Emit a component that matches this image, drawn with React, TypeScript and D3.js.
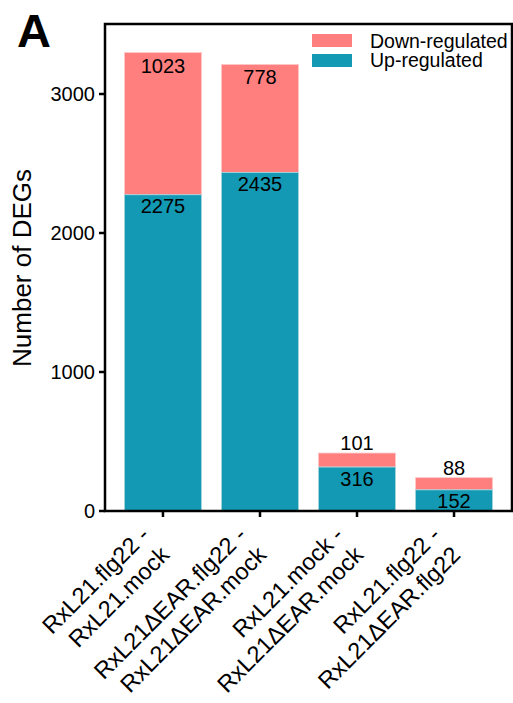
import React from "react";
import * as d3 from "d3";

const categories = ["c1", "c2", "c3", "c4"];
const labelLine1 = ["RxL21.flg22 -", "RxL21ΔEAR.flg22 -", "RxL21.mock -", "RxL21.flg22 -"];
const labelLine2 = ["RxL21.mock", "RxL21ΔEAR.mock", "RxL21ΔEAR.mock", "RxL21ΔEAR.flg22"];
const upValues = [2275, 2435, 316, 152];
const downValues = [1023, 778, 101, 88];
const yTicks = [0, 1000, 2000, 3000];
const seriesNames = ["Down-regulated", "Up-regulated"];

const W = 513;
const H = 703;
const FONT = "Liberation Sans, Arial, Helvetica, sans-serif";
const DOWN = "#FF7F7F";
const UP = "#1399B3";

export default function App() {
  const left = 105, right = 512, top = 24, bottom = 511;
  const x = d3.scaleBand<string>().domain(categories).range([left, right]).paddingInner(0.205).paddingOuter(0.2);
  const y = d3.scaleLinear().domain([0, 3500]).range([bottom, bottom - 3500 * 0.139]);
  const bw = x.bandwidth();

  return (
    <svg width={W} height={H} style={{ position: "absolute", left: 0, top: 0, background: "#fff" }} fontFamily={FONT}>
      <rect x={0} y={0} width={W} height={H} fill="#fff" />
      <text x={17} y={47} fontSize={47} fontWeight="bold" fill="#000">A</text>
      {categories.map((c, i) => {
        const up = upValues[i];
        const dn = downValues[i];
        const x0 = x(c)!;
        const cx = x0 + bw / 2;
        const upTop = y(up);
        const totTop = y(up + dn);
        const dnInside = upTop - totTop > 40;
        return (
          <g key={c}>
            <rect x={x0} y={totTop} width={bw} height={upTop - totTop} fill={DOWN} stroke="#ffc9c9" strokeWidth={0.8} />
            <rect x={x0} y={upTop} width={bw} height={y(0) - upTop} fill={UP} stroke="#a9d6e0" strokeWidth={0.8} />
            <text x={cx} y={dnInside ? totTop + 20 : totTop - 3} textAnchor="middle" fontSize={20} fill="#000">{dn}</text>
            <text x={cx} y={upTop + 18.5} textAnchor="middle" fontSize={20} fill="#000">{up}</text>
          </g>
        );
      })}
      {/* frame */}
      <rect x={left} y={top} width={right - left} height={bottom - top} fill="none" stroke="#000" strokeWidth={2.5} />
      {/* y ticks */}
      {yTicks.map((t) => (
        <g key={t}>
          <line x1={left - 6} x2={left} y1={y(t)} y2={y(t)} stroke="#000" strokeWidth={2.5} />
          <text x={left - 10} y={y(t) + 7} textAnchor="end" fontSize={20} fill="#000">{t}</text>
        </g>
      ))}
      {/* x ticks and labels */}
      {categories.map((c, i) => {
        const cx = x(c)! + bw / 2;
        return (
          <g key={c}>
            <line x1={cx} x2={cx} y1={bottom} y2={bottom + 6} stroke="#000" strokeWidth={2.5} />
            <g transform={`translate(${cx + 2},${528}) rotate(-45)`}>
              <text x={-16} y={-4} textAnchor="end" fontSize={23.5} fill="#000">{labelLine1[i]}</text>
              <text x={-16} y={24} textAnchor="end" fontSize={23.5} fill="#000">{labelLine2[i]}</text>
            </g>
          </g>
        );
      })}
      <text transform={`translate(31,268) rotate(-90)`} textAnchor="middle" fontSize={26} fill="#000">Number of DEGs</text>
      {/* legend */}
      {seriesNames.map((s, i) => (
        <g key={s}>
          <rect x={312} y={34 + i * 20} width={40} height={13} fill={i === 0 ? DOWN : UP} />
          <text x={370} y={47.5 + i * 19.5} fontSize={19.5} fill="#000">{s}</text>
        </g>
      ))}
    </svg>
  );
}
